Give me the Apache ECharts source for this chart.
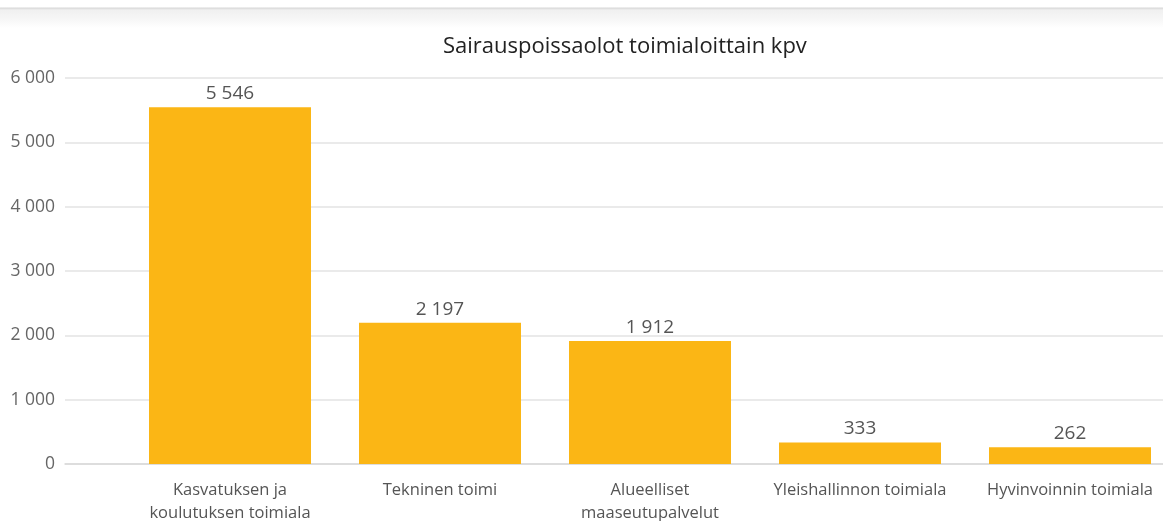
<!DOCTYPE html>
<html>
<head>
<meta charset="utf-8">
<script src="https://cdn.jsdelivr.net/npm/echarts@6/dist/echarts.min.js"></script>
<style>
    html, body { margin: 0; padding: 0; background: #fff; }
    .topbar {
        position: absolute; left: 0; top: 0; width: 1163px; height: 28px;
        background: linear-gradient(#fff 0px, #fff 7px, #d8d8d8 8px, #f0f0f0 10px, #f7f7f7 20px, #fff 28px);
    }
    #chart { width: 1163px; height: 521px; }
</style>
</head>
<body>
<div id="chart"></div>
<div class="topbar"></div>
<script>
// toimialat ja sairauspoissaolopäivät
const categories = [
    'Kasvatuksen ja koulutuksen toimiala',
    'Tekninen toimi',
    'Alueelliset maaseutupalvelut',
    'Yleishallinnon toimiala',
    'Hyvinvoinnin toimiala'
];
// akselin tekstit rivitettyinä kuten kuvassa
const categoryLabels = [
    'Kasvatuksen ja\nkoulutuksen toimiala',
    'Tekninen toimi',
    'Alueelliset\nmaaseutupalvelut',
    'Yleishallinnon toimiala',
    'Hyvinvoinnin toimiala'
];
const sickDays = [5546, 2197, 1912, 333, 262];
const yTicks = { min: 0, max: 6000, interval: 1000 };

const fmt = v => String(v).replace(/\B(?=(\d{3})+(?!\d))/g, ' ');
const fontFam = '"Open Sans", "Noto Sans", sans-serif';

let chart = echarts.init(document.getElementById('chart'));
chart.setOption({
    animation: false,
    title: {
        text: 'Sairauspoissaolot toimialoittain kpv',
        left: 438,
        top: 31,
        textStyle: { fontFamily: fontFam, fontSize: 22, fontWeight: 'normal', color: '#222' }
    },
    grid: [
        { left: 65, right: 0, top: 78, bottom: 57, outerBoundsMode: 'none' },
        { left: 125, width: 1050, top: 78, bottom: 57, outerBoundsMode: 'none' }
    ],
    xAxis: [
        {
            gridIndex: 0, type: 'category', data: categories,
            axisLine: { lineStyle: { color: '#d9d9d9', width: 1.5 } },
            axisTick: { show: false },
            axisLabel: { show: false }
        },
        {
            gridIndex: 1,
            type: 'category',
            data: categories,
            axisLine: { show: false },
            axisTick: { show: false },
            axisLabel: {
                margin: 15,
                fontFamily: fontFam,
                fontSize: 16.5,
                color: '#555',
                lineHeight: 23,
                interval: 0,
                formatter: (v, i) => categoryLabels[i]
            }
        }
    ],
    yAxis: [
        {
            gridIndex: 0,
            type: 'value',
            min: yTicks.min, max: yTicks.max, interval: yTicks.interval,
            axisLine: { show: false },
            axisTick: { show: false },
            splitLine: { lineStyle: { color: '#e3e3e3', width: 1.5 } },
            axisLabel: {
                margin: 10,
                fontFamily: fontFam,
                fontSize: 17.5,
                color: '#666',
                formatter: fmt
            }
        },
        {
            gridIndex: 1,
            type: 'value',
            min: yTicks.min, max: yTicks.max, interval: yTicks.interval,
            show: false
        }
    ],
    series: [
        {
            name: 'kpv',
            type: 'bar',
            xAxisIndex: 1,
            yAxisIndex: 1,
            data: sickDays,
            barWidth: 162,
            itemStyle: { color: '#FBB615' },
            label: {
                show: true,
                position: 'top',
                distance: 4,
                fontFamily: fontFam,
                fontSize: 19,
                color: '#555',
                formatter: p => fmt(p.value)
            }
        }
    ]
});
</script>
</body>
</html>
